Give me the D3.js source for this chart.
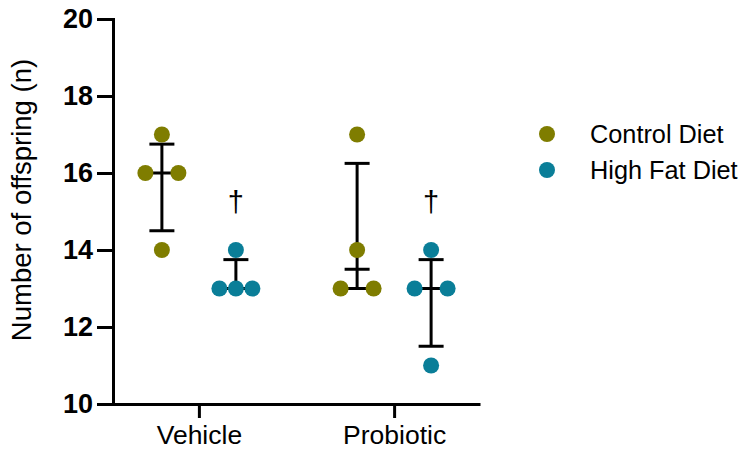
<!DOCTYPE html>
<html>
<head>
<meta charset="utf-8">
<script src="https://d3js.org/d3.v7.min.js"></script>
<style>
  body { margin: 0; background: #fff; }
  text { font-family: "Liberation Sans", Arial, sans-serif; }
</style>
</head>
<body>
<div id="chart"></div>
<script>
// data
var treatments = ["Vehicle", "Probiotic"];
var diets = ["Control Diet", "High Fat Diet"];
var dietColors = ["#7f7d00", "#0a7e98"];

// individual animals, per treatment, per diet
var vehicleControl = [17, 16, 16, 14];
var vehicleHFD = [14, 13, 13, 13];
var probioticControl = [17, 14, 13, 13];
var probioticHFD = [14, 13, 13, 11];

// median and interquartile range, as drawn
var medians = [[16, 13], [13.5, 13]];
var q1 = [[14.5, 13], [13, 11.5]];
var q3 = [[16.75, 13.75], [16.25, 13.75]];

// significance markers (treatment, diet)
var markers = [["Vehicle", "High Fat Diet"], ["Probiotic", "High Fat Diet"]];

var yTicks = [10, 12, 14, 16, 18, 20];

var values = [[vehicleControl, vehicleHFD], [probioticControl, probioticHFD]];

var width = 752, height = 456;

var svg = d3.select("#chart")
  .append("svg")
  .attr("width", width)
  .attr("height", height);

var y = d3.scaleLinear()
  .domain([10, 20])
  .range([404, 19]);

var x = d3.scalePoint()
  .domain(treatments)
  .range([113, 480])
  .padding(0.44);

var xDiet = d3.scalePoint()
  .domain(diets)
  .range([-37, 37]);

var color = d3.scaleOrdinal()
  .domain(diets)
  .range(dietColors);

// y axis
var yAxis = svg.append("g")
  .attr("transform", "translate(113,0)")
  .call(d3.axisLeft(y).tickValues(yTicks).tickSize(16).tickPadding(4));
yAxis.select(".domain").attr("stroke", "#000").attr("stroke-width", 3);
yAxis.selectAll(".tick line").attr("stroke", "#000").attr("stroke-width", 3);
yAxis.selectAll(".tick text")
  .attr("fill", "#000")
  .style("font-size", "27px")
  .style("font-weight", "bold")
  .style("font-family", "'Liberation Sans', Arial, sans-serif");

// x axis
var xAxis = svg.append("g")
  .attr("transform", "translate(0,404)")
  .call(d3.axisBottom(x).tickSize(14).tickPadding(7).tickSizeOuter(0));
xAxis.select(".domain").attr("stroke", "#000").attr("stroke-width", 3);
xAxis.selectAll(".tick line").attr("stroke", "#000").attr("stroke-width", 3);
xAxis.selectAll(".tick text")
  .attr("fill", "#000")
  .style("font-size", "26.5px")
  .style("font-family", "'Liberation Sans', Arial, sans-serif");

// y axis title
svg.append("text")
  .attr("transform", "translate(31,200) rotate(-90)")
  .attr("text-anchor", "middle")
  .style("font-size", "27.5px")
  .text("Number of offspring (n)");

// error bars (median with IQR)
var capHalf = 12.5;
treatments.forEach(function(t, i) {
  diets.forEach(function(d, j) {
    var cx = x(t) + xDiet(d);
    var g = svg.append("g").attr("stroke", "#000").attr("stroke-width", 3);
    g.append("line")
      .attr("x1", cx).attr("x2", cx)
      .attr("y1", y(q1[i][j])).attr("y2", y(q3[i][j]));
    [q1[i][j], q3[i][j], medians[i][j]].forEach(function(v) {
      g.append("line")
        .attr("x1", cx - capHalf).attr("x2", cx + capHalf)
        .attr("y1", y(v)).attr("y2", y(v));
    });
  });
});

// points, spread sideways when values repeat
var spread = 16.5;
treatments.forEach(function(t, i) {
  diets.forEach(function(d, j) {
    var pts = values[i][j];
    var groups = d3.group(pts, function(v) { return v; });
    groups.forEach(function(arr, v) {
      var n = arr.length;
      var offs = n === 1 ? [0] : n === 2 ? [-1, 1] : d3.range(n).map(function(k) { return k - (n - 1) / 2; });
      offs.forEach(function(o) {
        svg.append("circle")
          .attr("cx", x(t) + xDiet(d) + o * spread)
          .attr("cy", y(v))
          .attr("r", 8)
          .attr("fill", color(d));
      });
    });
  });
});

// dagger markers
svg.selectAll(".marker")
  .data(markers)
  .enter()
  .append("text")
  .attr("class", "marker")
  .attr("x", function(m) { return x(m[0]) + xDiet(m[1]); })
  .attr("y", y(15))
  .attr("text-anchor", "middle")
  .style("font-size", "29px")
  .text("\u2020");

// legend
var legend = svg.selectAll(".legend")
  .data(diets)
  .enter()
  .append("g")
  .attr("class", "legend")
  .attr("transform", function(d, i) { return "translate(547," + (134 + i * 36) + ")"; });
legend.append("circle")
  .attr("r", 8)
  .attr("fill", function(d) { return color(d); });
legend.append("text")
  .attr("x", 43)
  .attr("dy", "0.35em")
  .style("font-size", "25.3px")
  .text(function(d) { return d; });
</script>
</body>
</html>
